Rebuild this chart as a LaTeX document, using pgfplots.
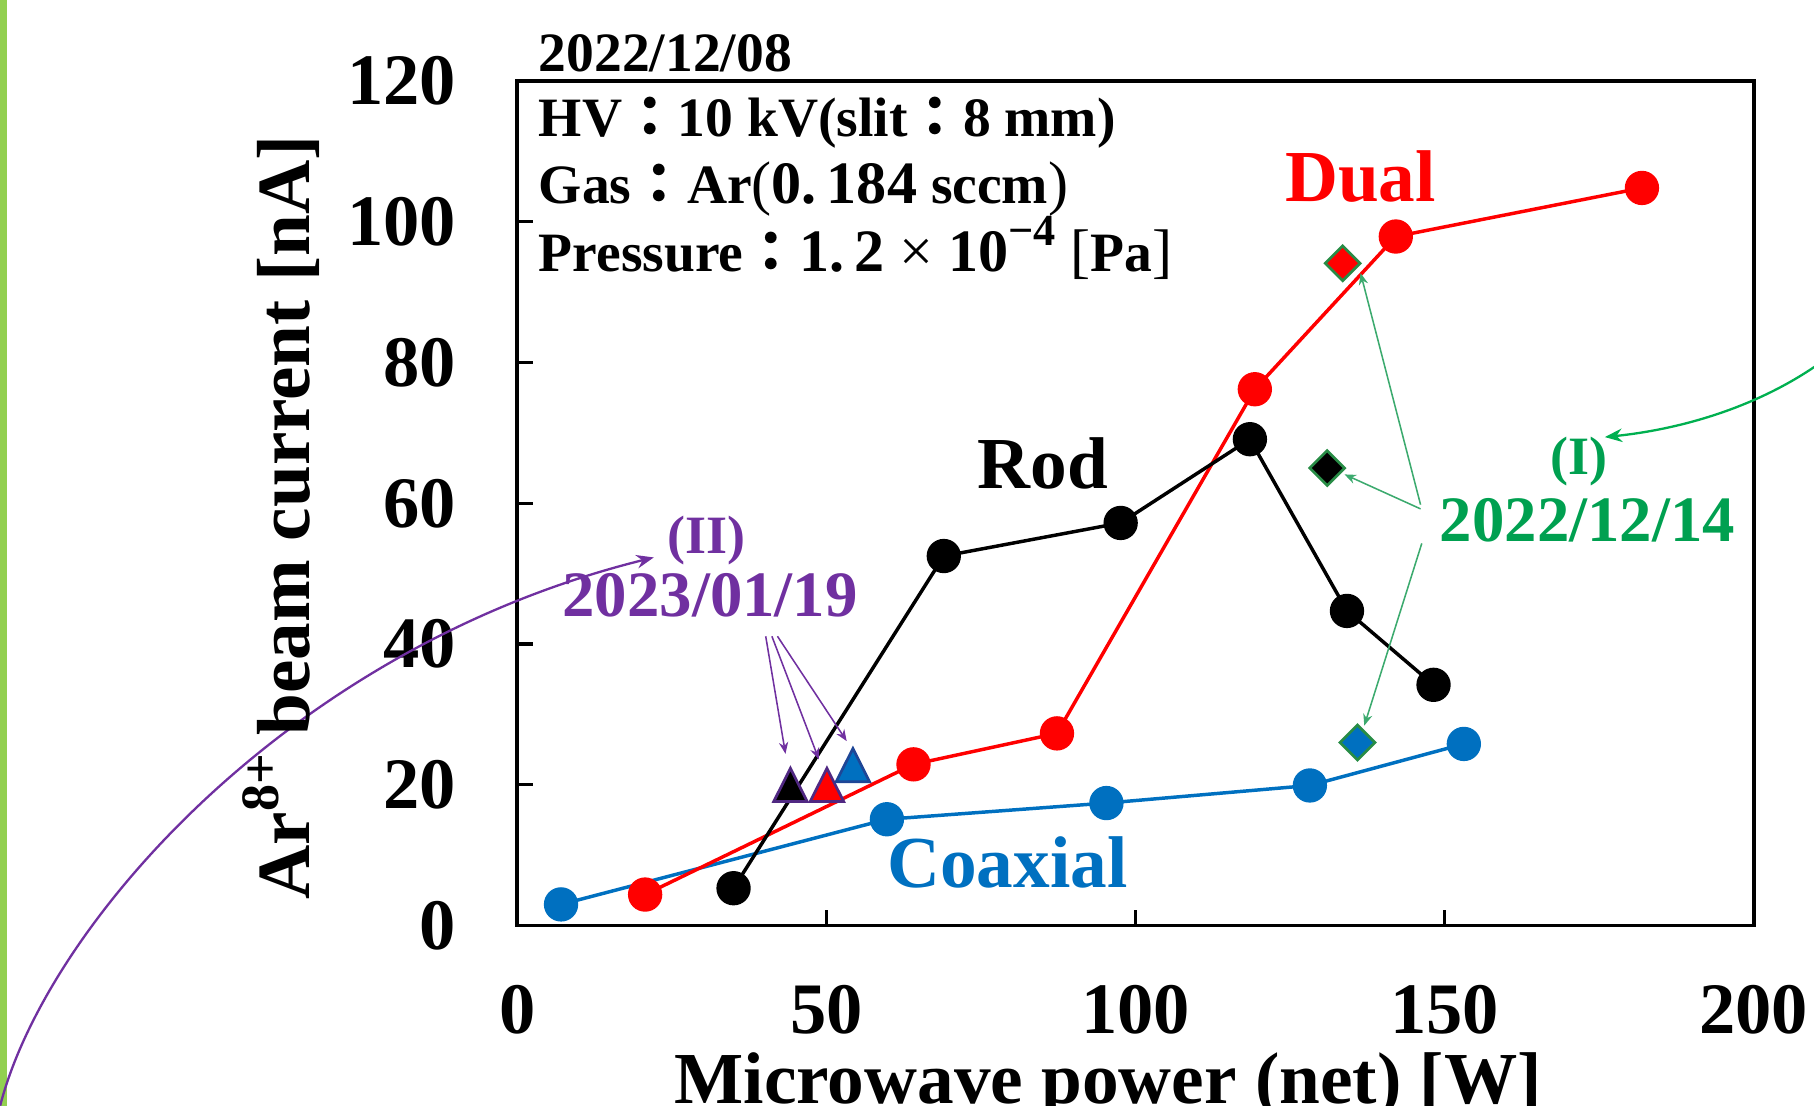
\documentclass[border=0pt]{standalone}
\usepackage{pgfplots}
\pgfplotsset{compat=1.18}
\usepackage{fontspec}
\setmainfont{Liberation Serif}
\newfontfamily\cjk{Noto Sans CJK JP}
\usetikzlibrary{arrows.meta}
\definecolor{cblue}{RGB}{0,112,192}
\definecolor{cred}{RGB}{255,0,0}
\definecolor{cgreen}{RGB}{0,160,80}
\definecolor{cgreenarr}{RGB}{0,176,80}
\definecolor{cgreenthin}{RGB}{60,170,110}
\definecolor{cdiam}{RGB}{40,140,70}
\definecolor{cpurple}{RGB}{112,48,160}
\definecolor{cpurpedge}{RGB}{80,40,130}
\definecolor{cblueedge}{RGB}{30,70,150}
\definecolor{strip}{RGB}{146,208,80}
\newcommand{\fs}[1]{\fontsize{#1}{#1}\selectfont\bfseries}
\newcommand{\cc}{{\cjk\bfseries ：}}
\newcommand{\nm}[1]{{\fontsize{15.6}{15.6}\selectfont #1}}
\newcommand{\lt}[1]{{\mdseries #1}}
\begin{document}
\begin{tikzpicture}
\useasboundingbox (-134.1pt,-46.8pt) rectangle (336.3pt,240pt);
\clip (-134.1pt,-46.8pt) rectangle (336.3pt,240pt);
\fill[strip] (-134.1pt,-46.8pt) rectangle (-132.4pt,240pt);
\begin{axis}[
  scale only axis, width=320.7pt, height=219pt,
  xmin=0, xmax=200, ymin=0, ymax=120,
  xtick={0,50,100,150,200}, ytick={0,20,40,60,80,100,120},
  xtick pos=left, ytick pos=left,
  tick align=inside, major tick length=4pt,
  axis line style={line width=1pt},
  every tick/.style={black, line width=0.9pt},
  ticklabel style={font=\fs{18.8}},
  /pgf/number format/assume math mode=true,
  xticklabel style={yshift=-12pt},
  yticklabel style={xshift=-12.3pt},
  clip=false,
]
% Coaxial
\addplot[color=cblue, line width=0.9pt, mark=*, mark size=4pt, mark options={fill=cblue, draw=cblue}]
  coordinates {(7.1,3.0) (59.8,15.1) (95.3,17.4) (128.2,19.9) (153.1,25.8)};
% Dual
\addplot[color=cred, line width=0.9pt, mark=*, mark size=4pt, mark options={fill=cred, draw=cred}]
  coordinates {(20.7,4.4) (64.1,22.9) (87.3,27.3) (119.3,76.2) (142.1,97.9) (181.9,104.8)};
% Rod
\addplot[color=black, line width=0.9pt, mark=*, mark size=4pt, mark options={fill=black, draw=black}]
  coordinates {(35.0,5.3) (69.0,52.5) (97.6,57.2) (118.5,69.1) (134.2,44.7) (148.2,34.2)};
% 2022/12/14 diamonds
\addplot[only marks, mark=square*, mark size=3.2pt, mark options={rotate=45, fill=cred, draw=cdiam, line width=0.7pt}]
  coordinates {(133.5,94.1)};
\addplot[only marks, mark=square*, mark size=3.2pt, mark options={rotate=45, fill=black, draw=cdiam, line width=0.7pt}]
  coordinates {(131.0,65.0)};
\addplot[only marks, mark=square*, mark size=3.2pt, mark options={rotate=45, fill=cblue, draw=cdiam, line width=0.7pt}]
  coordinates {(135.9,26.0)};
% 2023/01/19 triangles
\addplot[only marks, mark=triangle*, mark size=5pt, mark options={yscale=1.15, fill=black, draw=cpurpedge, line width=0.7pt}]
  coordinates {(44.2,19.2)};
\addplot[only marks, mark=triangle*, mark size=5pt, mark options={yscale=1.15, fill=cred, draw=cpurpedge, line width=0.7pt}]
  coordinates {(50.1,19.2)};
\addplot[only marks, mark=triangle*, mark size=5pt, mark options={yscale=1.15, fill=cblue, draw=cblueedge, line width=0.7pt}]
  coordinates {(54.3,22.0)};

% info text
\node[anchor=base west, inner sep=0pt, font=\fs{14.4}] at (axis cs:3.4,121.3) {2022/12/08};
\node[anchor=base west, inner sep=0pt, font=\fs{14.4}] at (axis cs:3.4,112.1) {HV\cc10 kV(slit\cc8 mm)};
\node[anchor=base west, inner sep=0pt, font=\fs{14.4}] at (axis cs:3.4,102.6) {Gas\cc Ar\nm{\lt{(}0.\,184} sccm\nm{\lt{)}}};
\node[anchor=base west, inner sep=0pt, font=\fs{14.4}] at (axis cs:3.4,93.0) {Pressure\cc \nm{1.\,2 \lt{×} 10\raisebox{0.42em}{\fontsize{11.5}{11.5}\selectfont −4} \lt{[}}Pa\nm{\lt{]}}};

% series labels
\node[anchor=base, inner sep=0pt, font=\fs{19}, text=cred] at (axis cs:136.4,102.9) {Dual};
\node[anchor=base, inner sep=0pt, font=\fs{19}, text=black] at (axis cs:85.0,62.1) {Rod};
\node[anchor=base, inner sep=0pt, font=\fs{19}, text=cblue] at (axis cs:79.3,5.4) {Coaxial};

% date annotations
\node[anchor=base, inner sep=0pt, font=\fs{14}, text=cgreen] at (axis cs:171.7,64.1) {(I)};
\node[anchor=base, inner sep=0pt, font=\fs{16.8}, text=cgreen] at (axis cs:173.1,54.6) {2022/12/14};
\node[anchor=base, inner sep=0pt, font=\fs{14}, text=cpurple] at (axis cs:30.7,52.9) {(II)};
\node[anchor=base, inner sep=0pt, font=\fs{16.8}, text=cpurple] at (axis cs:31.2,43.9) {2023/01/19};

% thin arrows
\draw[cgreenthin, line width=0.4pt, -{Stealth[length=3pt,width=2.4pt]}] (axis cs:146.1,59.8) -- (axis cs:136.4,92.7);
\draw[cgreenthin, line width=0.4pt, -{Stealth[length=3pt,width=2.4pt]}] (axis cs:146.1,59.2) -- (axis cs:133.8,64.1);
\draw[cgreenthin, line width=0.4pt, -{Stealth[length=3pt,width=2.4pt]}] (axis cs:146.3,54.3) -- (axis cs:137.0,28.4);
\draw[cpurple, line width=0.4pt, -{Stealth[length=3pt,width=2.4pt]}] (axis cs:40.2,41.1) -- (axis cs:43.4,24.4);
\draw[cpurple, line width=0.4pt, -{Stealth[length=3pt,width=2.4pt]}] (axis cs:41.2,41.1) -- (axis cs:48.8,23.6);
\draw[cpurple, line width=0.4pt, -{Stealth[length=3pt,width=2.4pt]}] (axis cs:42.1,41.1) -- (axis cs:53.3,26.2);

% curved arrows
\draw[cgreenarr, line width=0.6pt, -{Stealth[length=4.5pt,width=3.5pt]}] (axis cs:210,79.5) .. controls (axis cs:200,73.5) and (axis cs:188,70.5) .. (axis cs:175.9,69.4);
\draw[cpurple, line width=0.6pt, -{Stealth[length=4.5pt,width=3.5pt]}] (axis cs:-83.6,-25.6) .. controls (axis cs:-76.1,0) and (axis cs:-36.8,39.5) .. (axis cs:22.1,52.3);

% axis labels
\node[anchor=base, inner sep=0pt, font=\fs{19}] at (axis cs:95.6,-25.3) {Microwave power (net) [W]};
\node[anchor=base, rotate=90, inner sep=0pt, font=\fs{19.5}] at (axis cs:-33.5,58.0) {Ar\raisebox{0.42em}{\fontsize{14}{14}\selectfont 8+} beam current [nA]};
\end{axis}
\end{tikzpicture}
\end{document}
